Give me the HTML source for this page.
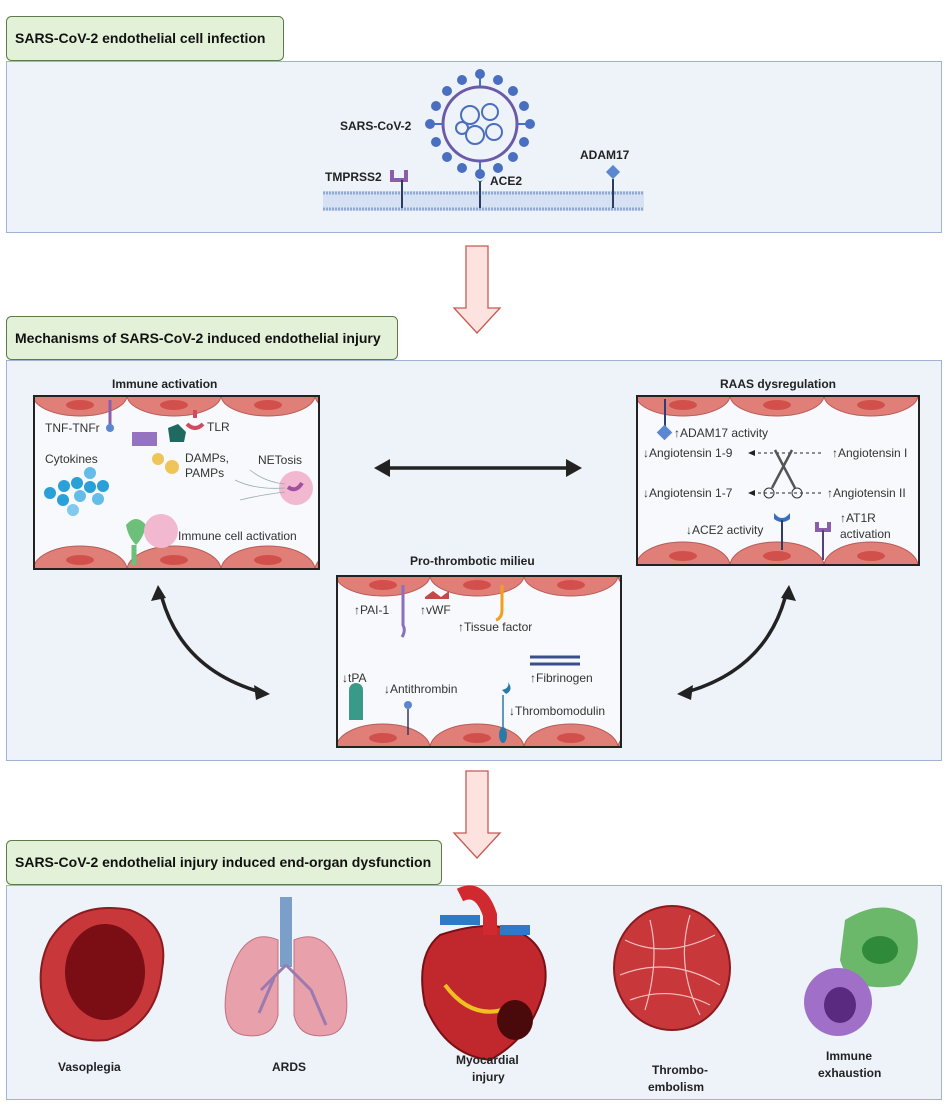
<!DOCTYPE html>
<html><head><meta charset="utf-8"><style>
body{margin:0;background:#fff;}
svg{display:block;font-family:"Liberation Sans",sans-serif;}
.h{font-weight:bold;font-size:14px;fill:#111}
.t{font-size:12px;fill:#333}
.b{font-weight:bold;font-size:12px;fill:#222}
</style></head><body>
<svg width="950" height="1105" viewBox="0 0 950 1105" xmlns="http://www.w3.org/2000/svg">
<defs>
<clipPath id="c1"><rect x="33" y="395" width="287" height="175"/></clipPath>
<clipPath id="c2"><rect x="636" y="395" width="284" height="171"/></clipPath>
<clipPath id="c3"><rect x="336" y="575" width="286" height="173"/></clipPath>
<g id="topcells">
<ellipse cx="47" cy="0" rx="47" ry="21" fill="#e07f78" stroke="#b85a55"/>
<ellipse cx="141" cy="0" rx="47" ry="21" fill="#e07f78" stroke="#b85a55"/>
<ellipse cx="235" cy="0" rx="47" ry="21" fill="#e07f78" stroke="#b85a55"/>
<ellipse cx="329" cy="0" rx="47" ry="21" fill="#e07f78" stroke="#b85a55"/>
<ellipse cx="47" cy="10" rx="14" ry="5" fill="#d2504c"/>
<ellipse cx="141" cy="10" rx="14" ry="5" fill="#d2504c"/>
<ellipse cx="235" cy="10" rx="14" ry="5" fill="#d2504c"/>
</g>
<g id="botcells">
<ellipse cx="47" cy="0" rx="47" ry="24" fill="#e07f78" stroke="#b85a55"/>
<ellipse cx="141" cy="0" rx="47" ry="24" fill="#e07f78" stroke="#b85a55"/>
<ellipse cx="235" cy="0" rx="47" ry="24" fill="#e07f78" stroke="#b85a55"/>
<ellipse cx="329" cy="0" rx="47" ry="24" fill="#e07f78" stroke="#b85a55"/>
<ellipse cx="47" cy="-10" rx="14" ry="5" fill="#d2504c"/>
<ellipse cx="141" cy="-10" rx="14" ry="5" fill="#d2504c"/>
<ellipse cx="235" cy="-10" rx="14" ry="5" fill="#d2504c"/>
</g>
</defs>

<!-- Panel 1 -->
<rect x="6.5" y="61.5" width="935" height="171" fill="#eef3fa" stroke="#9fb2d8"/>
<rect x="6.5" y="16.5" width="277" height="44" rx="5" fill="#e3f1d9" stroke="#5c7a4a"/>
<text x="15" y="43" class="h">SARS-CoV-2 endothelial cell infection</text>
<!-- membrane -->
<rect x="323" y="191" width="321" height="20" fill="#d6e2f3"/>
<line x1="323" y1="193" x2="644" y2="193" stroke="#8fa8d4" stroke-width="3" stroke-dasharray="2 1"/>
<line x1="323" y1="209" x2="644" y2="209" stroke="#8fa8d4" stroke-width="3" stroke-dasharray="2 1"/>
<!-- virus -->
<circle cx="480" cy="124" r="37" fill="#eef3fa" stroke="#6b5aa8" stroke-width="3"/>
<g stroke="#4a6fc0" stroke-width="2" fill="none">
<circle cx="470" cy="115" r="9"/><circle cx="490" cy="112" r="8"/><circle cx="475" cy="135" r="9"/><circle cx="494" cy="132" r="8"/><circle cx="462" cy="128" r="6"/>
</g>
<g fill="#4a6fc0" stroke="#4a6fc0" stroke-width="2">
<line x1="480" y1="87" x2="480" y2="75"/><circle cx="480" cy="74" r="4"/>
<line x1="480" y1="161" x2="480" y2="173"/><circle cx="480" cy="174" r="4"/>
<line x1="443" y1="124" x2="431" y2="124"/><circle cx="430" cy="124" r="4"/>
<line x1="517" y1="124" x2="529" y2="124"/><circle cx="530" cy="124" r="4"/>
<circle cx="447" cy="91" r="4"/><circle cx="513" cy="91" r="4"/><circle cx="447" cy="157" r="4"/><circle cx="513" cy="157" r="4"/>
<circle cx="462" cy="80" r="4"/><circle cx="498" cy="80" r="4"/><circle cx="436" cy="106" r="4"/><circle cx="524" cy="106" r="4"/>
<circle cx="436" cy="142" r="4"/><circle cx="524" cy="142" r="4"/><circle cx="462" cy="168" r="4"/><circle cx="498" cy="168" r="4"/>
</g>
<text x="340" y="130" class="b">SARS-CoV-2</text>
<text x="325" y="181" class="b">TMPRSS2</text>
<text x="388" y="181" class="b" display="none"></text>
<path d="M392 170 v10 h14 v-10" fill="none" stroke="#8a5fa8" stroke-width="4"/>
<line x1="402" y1="180" x2="402" y2="208" stroke="#2c3e60" stroke-width="2"/>
<path d="M374 0" />
<path d="M474 177 q6 8 12 0 l-6 6z" fill="#1f6060"/>
<line x1="480" y1="182" x2="480" y2="208" stroke="#2c3e60" stroke-width="2"/>
<text x="490" y="185" class="b">ACE2</text>
<text x="580" y="159" class="b">ADAM17</text>
<rect x="608" y="167" width="10" height="10" transform="rotate(45 613 172)" fill="#5b86d0"/>
<line x1="613" y1="179" x2="613" y2="208" stroke="#2c3e60" stroke-width="2"/>

<!-- arrow 1 -->
<path d="M466 246 h22 v62 h12 l-23 25 l-23 -25 h12z" fill="#fde3df" stroke="#c65a50" stroke-width="1.3"/>

<!-- Panel 2 -->
<rect x="6.5" y="360.5" width="935" height="400" fill="#eef3fa" stroke="#9fb2d8"/>
<rect x="6.5" y="316.5" width="391" height="43" rx="5" fill="#e3f1d9" stroke="#5c7a4a"/>
<text x="15" y="343" class="h">Mechanisms of SARS-CoV-2 induced endothelial injury</text>

<!-- Immune box -->
<text x="112" y="388" class="b">Immune activation</text>
<g clip-path="url(#c1)">
<rect x="33" y="395" width="287" height="175" fill="#f7f9fc"/>
<use href="#topcells" x="33" y="395"/>
<use href="#botcells" x="33" y="570"/>
</g>
<rect x="34" y="396" width="285" height="173" fill="none" stroke="#222" stroke-width="2"/>
<text x="45" y="432" class="t">TNF-TNFr</text>
<line x1="110" y1="400" x2="110" y2="428" stroke="#8a5fa8" stroke-width="3"/><circle cx="110" cy="428" r="4" fill="#5b86d0"/>
<path d="M132 432 h25 v14 h-25z" fill="#9473c0"/>
<path d="M168 428 l10 -4 l8 8 l-2 10 h-14z" fill="#1f6a60"/>
<path d="M195 410 v8 m-8 6 q8 8 16 0" stroke="#d04a60" stroke-width="4" fill="none"/>
<text x="207" y="431" class="t">TLR</text>
<circle cx="158" cy="459" r="6" fill="#efc55a"/><circle cx="172" cy="467" r="7" fill="#efc55a"/>
<text x="185" y="462" class="t">DAMPs,</text><text x="185" y="477" class="t">PAMPs</text>
<text x="45" y="463" class="t">Cytokines</text>
<g fill="#2aa0d8"><circle cx="50" cy="493" r="6"/><circle cx="64" cy="486" r="6"/><circle cx="77" cy="483" r="6"/><circle cx="90" cy="487" r="6"/><circle cx="103" cy="486" r="6"/><circle cx="63" cy="500" r="6"/><circle cx="80" cy="496" r="6" fill="#63bde8"/><circle cx="98" cy="499" r="6" fill="#63bde8"/><circle cx="73" cy="510" r="6" fill="#7fcaee"/><circle cx="90" cy="473" r="6" fill="#63bde8"/></g>
<text x="258" y="464" class="t">NETosis</text>
<circle cx="296" cy="488" r="17" fill="#f2b8d0"/><path d="M288 487 q8 6 14 -4" stroke="#a050a0" stroke-width="4" fill="none"/>
<path d="M235 480 q20 10 50 8 M240 500 q20 -5 45 -8 M250 470 q15 12 35 14" stroke="#9aa" stroke-width="0.8" fill="none"/>
<path d="M126 525 q10 -12 20 0 q-2 12 -10 20 q-8 -8 -10 -20z" fill="#6cc07a"/><path d="M134 545 v20" stroke="#6cc07a" stroke-width="5"/>
<circle cx="161" cy="531" r="17" fill="#f2b8d0"/>
<text x="178" y="540" class="t">Immune cell activation</text>

<!-- double arrow -->
<line x1="385" y1="468" x2="570" y2="468" stroke="#222" stroke-width="3.5"/>
<path d="M374 468 l16 -9 v18z M582 468 l-16 -9 v18z" fill="#222"/>

<!-- RAAS box -->
<text x="720" y="388" class="b">RAAS dysregulation</text>
<g clip-path="url(#c2)">
<rect x="636" y="395" width="284" height="171" fill="#f7f9fc"/>
<use href="#topcells" x="636" y="395"/>
<use href="#botcells" x="636" y="566"/>
</g>
<rect x="637" y="396" width="282" height="169" fill="none" stroke="#222" stroke-width="2"/>
<line x1="665" y1="399" x2="665" y2="428" stroke="#2c3e7a" stroke-width="2"/>
<rect x="659" y="427" width="11" height="11" transform="rotate(45 664.5 432.5)" fill="#5b86d0"/>
<text x="674" y="437" class="t">↑ADAM17 activity</text>
<text x="643" y="457" class="t">↓Angiotensin 1-9</text>
<text x="832" y="457" class="t">↑Angiotensin I</text>
<text x="643" y="497" class="t">↓Angiotensin 1-7</text>
<text x="827" y="497" class="t">↑Angiotensin II</text>
<line x1="752" y1="453" x2="822" y2="453" stroke="#222" stroke-dasharray="3 3"/>
<line x1="752" y1="493" x2="822" y2="493" stroke="#222" stroke-dasharray="3 3"/>
<path d="M748 453 l7 -3 v6z M748 493 l7 -3 v6z" fill="#222"/>
<path d="M775 450 l20 38 M792 450 l-20 38" stroke="#555" stroke-width="2.5"/>
<circle cx="769" cy="493" r="5" fill="none" stroke="#333"/><circle cx="797" cy="493" r="5" fill="none" stroke="#333"/>
<text x="686" y="534" class="t">↓ACE2 activity</text>
<path d="M774 513 q8 10 16 0 v6 q-8 6 -16 0z" fill="#3a6ec0"/>
<line x1="782" y1="520" x2="782" y2="550" stroke="#2c3e60" stroke-width="2"/>
<path d="M817 522 v8 h12 v-8" fill="none" stroke="#8a5fa8" stroke-width="4"/>
<line x1="823" y1="530" x2="823" y2="560" stroke="#5a3f80" stroke-width="2"/>
<text x="840" y="522" class="t">↑AT1R</text><text x="840" y="538" class="t">activation</text>

<!-- Prothrombotic -->
<text x="410" y="565" class="b">Pro-thrombotic milieu</text>
<g clip-path="url(#c3)">
<rect x="336" y="575" width="286" height="173" fill="#f7f9fc"/>
<use href="#topcells" x="336" y="575"/>
<use href="#botcells" x="336" y="748"/>
</g>
<rect x="337" y="576" width="284" height="171" fill="none" stroke="#222" stroke-width="2"/>
<text x="354" y="614" class="t">↑PAI-1</text>
<path d="M403 585 v40 q3 6 -1 12" stroke="#8a6fc0" stroke-width="3" fill="none"/>
<path d="M425 597 l8 -6 l8 6 l8 -6 v8 h-24z" fill="#c24a48"/>
<text x="420" y="614" class="t">↑vWF</text>
<path d="M502 585 v25 q0 8 -6 10" stroke="#f0a020" stroke-width="3" fill="none"/>
<text x="458" y="631" class="t">↑Tissue factor</text>
<path d="M530 657 h50 M530 664 h50" stroke="#3a4f90" stroke-width="3"/>
<text x="530" y="682" class="t">↑Fibrinogen</text>
<text x="342" y="682" class="t">↓tPA</text>
<path d="M349 690 a7 7 0 0 1 14 0 v30 h-14z" fill="#3a9a8a"/>
<text x="384" y="693" class="t">↓Antithrombin</text>
<circle cx="408" cy="705" r="4" fill="#5b86d0"/><line x1="408" y1="709" x2="408" y2="735" stroke="#2c3e60" stroke-width="1.5"/>
<path d="M502 690 q8 -2 6 -8 q6 8 -2 12" fill="#2a7aa8"/>
<line x1="503" y1="695" x2="503" y2="730" stroke="#2a7aa8" stroke-width="1.5"/><ellipse cx="503" cy="735" rx="4" ry="8" fill="#2a7aa8"/>
<text x="509" y="715" class="t">↓Thrombomodulin</text>

<!-- curved arrows -->
<path d="M162 598 q20 70 95 93" stroke="#222" stroke-width="3.5" fill="none"/>
<path d="M158 585 l-7 16 l15 -3z M270 694 l-16 -9 l2 15z" fill="#222"/>
<path d="M785 598 q-20 70 -95 93" stroke="#222" stroke-width="3.5" fill="none"/>
<path d="M789 585 l7 16 l-15 -3z M677 694 l16 -9 l-2 15z" fill="#222"/>

<!-- arrow 2 -->
<path d="M466 771 h22 v62 h12 l-23 25 l-23 -25 h12z" fill="#fde3df" stroke="#c65a50" stroke-width="1.3"/>

<!-- Panel 3 -->
<rect x="6.5" y="885.5" width="935" height="214" fill="#eef3fa" stroke="#9fb2d8"/>
<rect x="6.5" y="840.5" width="435" height="44" rx="5" fill="#e3f1d9" stroke="#5c7a4a"/>
<text x="15" y="867" class="h">SARS-CoV-2 endothelial injury induced end-organ dysfunction</text>

<!-- vasoplegia -->
<path d="M50 940 q25 -40 80 -30 q40 15 32 60 q-5 55 -55 70 q-55 5 -65 -45 q-5 -30 8 -55z" fill="#c8383a" stroke="#8a1c20" stroke-width="2"/>
<ellipse cx="105" cy="972" rx="40" ry="48" fill="#7a0e14"/>
<text x="58" y="1071" class="b">Vasoplegia</text>
<!-- lungs -->
<rect x="280" y="897" width="12" height="70" fill="#7a9fc8"/>
<path d="M278 940 q-35 -15 -50 40 q-10 50 15 55 q30 5 35 -20z" fill="#e8a0aa" stroke="#c07080"/>
<path d="M294 940 q35 -15 50 40 q10 50 -15 55 q-30 5 -35 -20z" fill="#e8a0aa" stroke="#c07080"/>
<path d="M286 965 l-25 25 m25 -25 l25 25 m-37 -12 l-15 35 m52 -23 l15 35" stroke="#9a7ab0" stroke-width="3"/>
<text x="272" y="1071" class="b">ARDS</text>
<!-- heart -->
<path d="M440 935 q-25 20 -15 70 q20 50 65 55 q45 -25 55 -75 q5 -40 -30 -55 q-30 -10 -75 5z" fill="#c0282e" stroke="#7a1014" stroke-width="2"/>
<path d="M460 895 q20 -10 30 20 v20" stroke="#d02a30" stroke-width="14" fill="none"/>
<path d="M440 920 h40 M500 930 h30" stroke="#2e7ac8" stroke-width="10"/>
<path d="M445 985 q30 40 70 20" stroke="#f0c020" stroke-width="4" fill="none"/>
<ellipse cx="515" cy="1020" rx="18" ry="20" fill="#4a0a0c"/>
<text x="456" y="1064" class="b">Myocardial</text><text x="472" y="1081" class="b">injury</text>
<!-- thrombus -->
<ellipse cx="672" cy="968" rx="58" ry="62" fill="#c8383a" stroke="#8a1c20" stroke-width="2"/>
<path d="M625 940 q40 20 90 -5 M620 975 q50 -20 100 10 M630 1000 q40 -15 80 5 M650 920 q10 40 -5 90 M690 915 q-15 50 10 100" stroke="#f4c0c0" stroke-width="1.2" fill="none"/>
<text x="652" y="1074" class="b">Thrombo-</text><text x="648" y="1091" class="b">embolism</text>
<!-- immune -->
<path d="M845 920 q40 -25 70 0 q10 40 -15 65 q-50 10 -60 -25z" fill="#6cb86a"/>
<ellipse cx="880" cy="950" rx="18" ry="14" fill="#2f8a3a"/>
<circle cx="838" cy="1002" r="34" fill="#a070c8"/>
<ellipse cx="840" cy="1005" rx="16" ry="18" fill="#5a2a80"/>
<text x="826" y="1060" class="b">Immune</text><text x="818" y="1077" class="b">exhaustion</text>
</svg>
</body></html>
